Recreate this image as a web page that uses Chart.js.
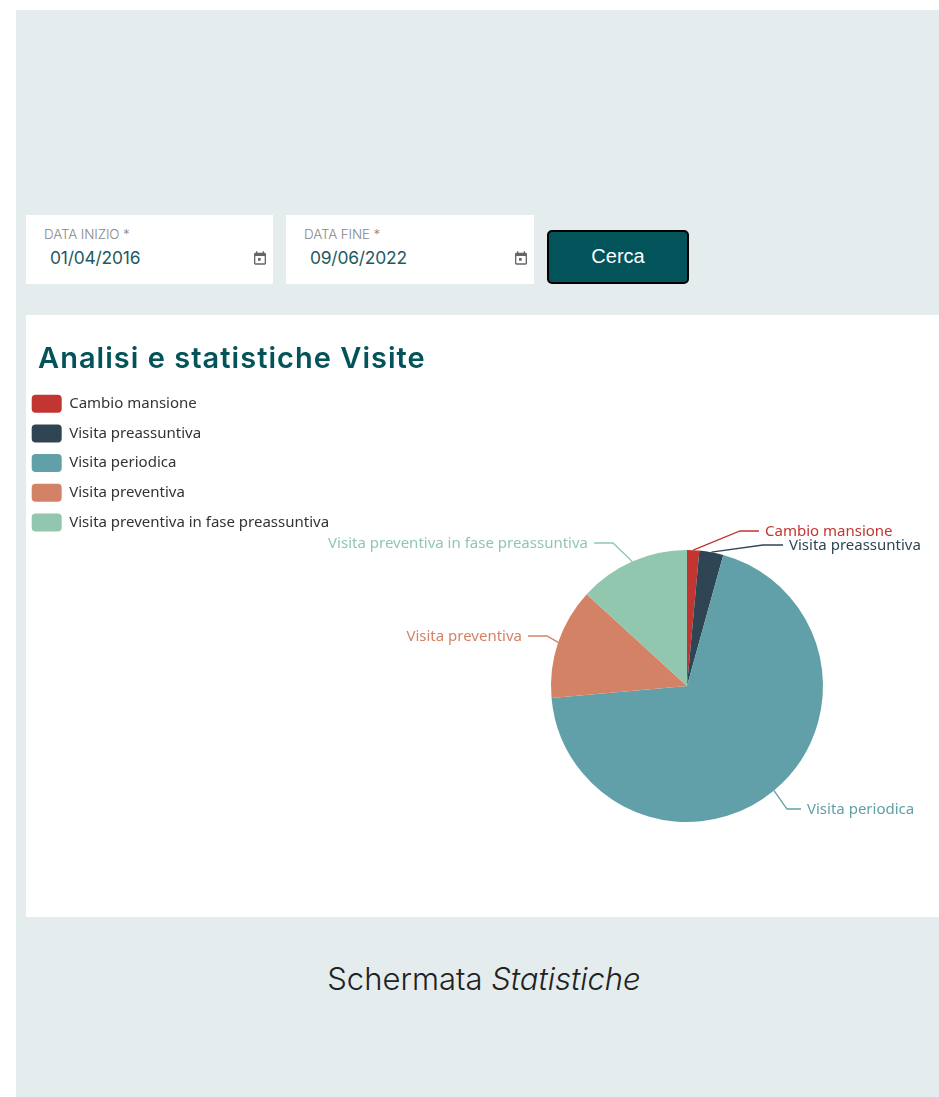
<!DOCTYPE html>
<html lang="it"><head><meta charset="utf-8"><title>Schermata Statistiche</title>
<script src="https://cdn.jsdelivr.net/npm/chart.js@4/dist/chart.umd.min.js"></script>
<style>
html,body{margin:0;padding:0;background:#fff;overflow:hidden}
body{width:939px;height:1097px;position:relative;font-family:Lato,sans-serif}
.bg{position:absolute;left:16px;top:10px;width:923px;height:1087px;background:#e4ecee}
.field{position:absolute;top:215px;height:69px;background:#fff}
.lab{position:absolute;left:18px;top:11px;font:300 13.4px Inter,sans-serif;color:#888;letter-spacing:-.1px}
.val{position:absolute;left:24px;top:32px;font:400 17.4px Inter,sans-serif;color:#1f5a60;letter-spacing:-.2px}
.field svg{position:absolute;right:5px;top:35px}
.btn{position:absolute;left:547px;top:230px;width:138px;height:50px;border:2px solid #000;border-radius:5px;background:#02545a;color:#fff;font:400 20px "Liberation Sans",Arial,sans-serif;text-align:center;line-height:48px}
.card{position:absolute;left:26px;top:315px;width:913px;height:602px;background:#fff}
h1{position:absolute;left:38px;top:341px;margin:0;font:600 29px Inter,sans-serif;letter-spacing:1.03px;color:#02545a;white-space:nowrap;line-height:34px}
canvas{position:absolute;left:0;top:0}
.cap{position:absolute;left:16px;width:936px;top:960px;text-align:center;font:300 31px Inter,sans-serif;color:#222;line-height:38px}
</style></head><body>
<div class="bg"></div>
<div class="field" style="left:26px;width:247px"><span class="lab">DATA INIZIO *</span><span class="val">01/04/2016</span>
<svg width="16" height="16" viewBox="0 0 24 24"><path fill="#666" d="M19 4h-1V2h-2v2H8V2H6v2H5a2 2 0 0 0-2 2v14a2 2 0 0 0 2 2h14a2 2 0 0 0 2-2V6a2 2 0 0 0-2-2zm0 16H5V9h14v11zM9 12h4v4H9z"/></svg></div>
<div class="field" style="left:286px;width:248px"><span class="lab">DATA FINE *</span><span class="val">09/06/2022</span>
<svg width="16" height="16" viewBox="0 0 24 24"><path fill="#666" d="M19 4h-1V2h-2v2H8V2H6v2H5a2 2 0 0 0-2 2v14a2 2 0 0 0 2 2h14a2 2 0 0 0 2-2V6a2 2 0 0 0-2-2zm0 16H5V9h14v11zM9 12h4v4H9z"/></svg></div>
<div class="btn">Cerca</div>
<div class="card"><canvas id="c" width="913" height="602"></canvas></div>
<h1>Analisi e statistiche Visite</h1>
<div class="cap">Schermata <i>Statistiche</i></div>
<script>
const categories = ["Cambio mansione","Visita preassuntiva","Visita periodica","Visita preventiva","Visita preventiva in fase preassuntiva"];
const seriesValues = [1.45, 2.85, 69.3, 13.2, 13.2];
const sliceColors = ["#c23531","#2f4554","#61a0a8","#d48265","#91c7ae"];

const FONT = '"Noto Sans", sans-serif';
// leader-line elbows, relative to the pie centre: [elbow dx, elbow dy, horizontal run]
const leaders = [[53,-155,19],[76,-141,20],[100,123,14],[-140,-50,-19],[-74,-143,-19]];

const outerLabels = {
  id:'outerLabels',
  afterDatasetsDraw(chart){
    const ctx = chart.ctx, arcs = chart.getDatasetMeta(0).data;
    ctx.save();
    ctx.font = '15px '+FONT;
    ctx.lineWidth = 1.3;
    arcs.forEach((arc,i)=>{
      const {x,y,startAngle,endAngle,outerRadius} = arc.getProps(['x','y','startAngle','endAngle','outerRadius'],true);
      const mid = (startAngle+endAngle)/2;
      const [dx,dy,run] = leaders[i];
      const sx = x+Math.cos(mid)*outerRadius, sy = y+Math.sin(mid)*outerRadius;
      const ex = x+dx, ey = y+dy, tx = ex+run;
      ctx.strokeStyle = ctx.fillStyle = sliceColors[i];
      ctx.beginPath(); ctx.moveTo(sx,sy); ctx.lineTo(ex,ey); ctx.lineTo(tx,ey); ctx.stroke();
      ctx.textBaseline = 'middle';
      ctx.textAlign = run>0 ? 'left' : 'right';
      ctx.fillText(categories[i], tx+(run>0?6:-6), ey+0.5);
    });
    ctx.restore();
  }
};
const placeLegend = {
  id:'placeLegend',
  afterLayout(chart){
    const l = chart.legend;
    l.left = -6; l.top = 68; l.right = l.left+l.width; l.bottom = l.top+l.height;
    l.adjustHitBoxes();
  }
};
new Chart(document.getElementById('c'),{
  type:'pie',
  data:{labels:categories,datasets:[{data:seriesValues,backgroundColor:sliceColors,borderWidth:0,radius:136}]},
  plugins:[outerLabels,placeLegend],
  options:{
    responsive:false,animation:false,
    layout:{padding:{left:409,top:235,bottom:95}},
    plugins:{
      tooltip:{enabled:false},
      legend:{position:'chartArea',align:'start',
        labels:{boxWidth:30,boxHeight:18,padding:11.7,useBorderRadius:true,borderRadius:4,color:'#333',font:{family:FONT,size:15}}}
    }
  }
});
</script>
</body></html>
